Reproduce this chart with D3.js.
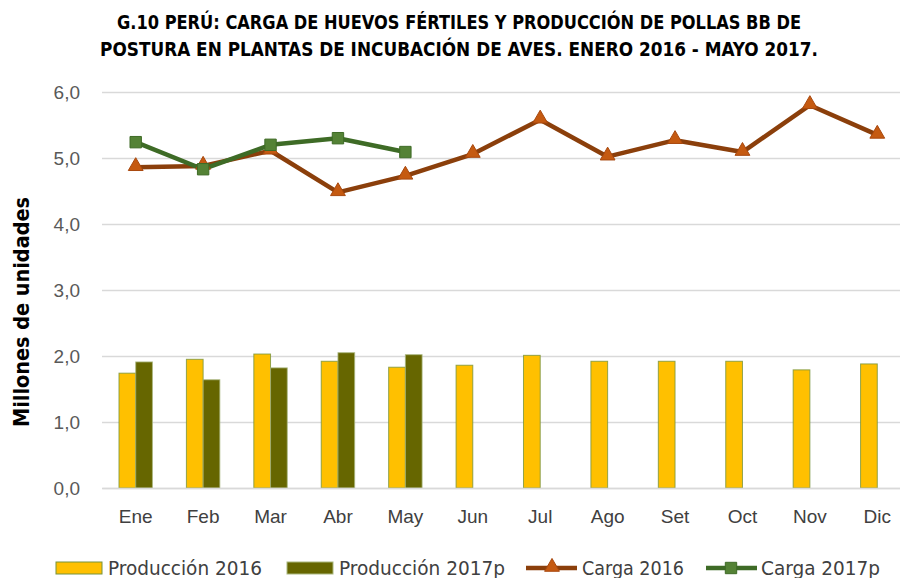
<!DOCTYPE html>
<html>
<head>
<meta charset="utf-8">
<script src="https://cdn.jsdelivr.net/npm/d3@7"></script>
<style>
  body { margin: 0; background: #fff; }
  svg { display: block; font-family: "Liberation Sans Narrow", "DejaVu Sans Condensed", "Open Sans", sans-serif; }
</style>
</head>
<body>
<div id="chart"></div>
<script>
'use strict';

const months = ['Ene', 'Feb', 'Mar', 'Abr', 'May', 'Jun', 'Jul', 'Ago', 'Set', 'Oct', 'Nov', 'Dic'];
const prod2016 = [1.74, 1.95, 2.03, 1.92, 1.83, 1.86, 2.01, 1.92, 1.92, 1.92, 1.79, 1.88];
const prod2017 = [1.91, 1.64, 1.82, 2.05, 2.02];
const carga2016 = [4.86, 4.88, 5.11, 4.48, 4.73, 5.06, 5.58, 5.02, 5.27, 5.09, 5.80, 5.35];
const carga2017 = [5.24, 4.83, 5.20, 5.30, 5.09];
const yTicks = [0, 1, 2, 3, 4, 5, 6];
const titleLines = [
    'G.10  PERÚ: CARGA DE HUEVOS FÉRTILES Y PRODUCCIÓN DE POLLAS BB DE',
    'POSTURA EN PLANTAS DE INCUBACIÓN DE AVES. ENERO 2016 - MAYO 2017.'
];

const width = 900,
    height = 578,
    plotLeft = 102,
    plotRight = 911,
    colors = {
        prod2016: '#FFC000',
        prod2017: '#666600',
        carga2016: '#8B3F0B',
        carga2016Marker: '#C55A11',
        carga2017: '#3E6B26',
        carga2017Marker: '#548235'
    };

const svg = d3.select('#chart')
    .append('svg')
    .attr('width', width)
    .attr('height', height);

const x = d3.scaleBand().domain(months).range([plotLeft, plotRight]),
    y = d3.scaleLinear().domain([0, 6]).range([488, 92]),
    xs = d3.scaleBand().domain(['p16', 'p17']).range([x.bandwidth() * 0.252, x.bandwidth() * 0.748]);

// title
svg.append('g')
    .selectAll('text')
    .data(titleLines)
    .join('text')
    .attr('x', 459)
    .attr('y', (d, i) => 29 + i * 27)
    .attr('text-anchor', 'middle')
    .attr('font-weight', 'bold')
    .attr('font-size', 20)
    .attr('fill', '#000')
    .attr('textLength', (d, i) => i === 0 ? 684 : 718)
    .attr('lengthAdjust', 'spacingAndGlyphs')
    .text(d => d);

// y axis + gridlines
const yAxis = svg.append('g')
    .attr('transform', 'translate(' + plotLeft + ',0)')
    .call(d3.axisLeft(y)
        .tickValues(yTicks)
        .tickSize(-(plotRight - plotLeft))
        .tickPadding(22)
        .tickFormat(d => d3.format('.1f')(d).replace('.', ',')));
yAxis.select('.domain').remove();
yAxis.selectAll('line').attr('stroke', '#D9D9D9').attr('stroke-width', 1.3);
yAxis.selectAll('text')
    .attr('font-size', 19)
    .attr('fill', '#595959')
    .style('font-family', 'inherit');

svg.append('text')
    .attr('transform', 'translate(29,312) rotate(-90)')
    .attr('text-anchor', 'middle')
    .attr('font-weight', 'bold')
    .attr('font-size', 21)
    .attr('fill', '#000')
    .attr('textLength', 230)
    .attr('lengthAdjust', 'spacingAndGlyphs')
    .text('Millones de unidades');

// bars
const bars = svg.append('g');
bars.selectAll('.p16')
    .data(prod2016)
    .join('rect')
    .attr('class', 'p16')
    .attr('x', (d, i) => x(months[i]) + xs('p16'))
    .attr('y', d => y(d))
    .attr('width', xs.bandwidth())
    .attr('height', d => y(0) - y(d))
    .attr('fill', colors.prod2016)
    .attr('stroke', '#77933C')
    .attr('stroke-opacity', 0.8)
    .attr('stroke-width', 1);

bars.selectAll('.p17')
    .data(prod2017)
    .join('rect')
    .attr('class', 'p17')
    .attr('x', (d, i) => x(months[i]) + xs('p17'))
    .attr('y', d => y(d))
    .attr('width', xs.bandwidth())
    .attr('height', d => y(0) - y(d))
    .attr('fill', colors.prod2017)
    .attr('stroke', '#A9B77E')
    .attr('stroke-opacity', 0.8)
    .attr('stroke-width', 1);

// x axis
const xAxis = svg.append('g')
    .attr('transform', 'translate(0,' + y(0) + ')')
    .call(d3.axisBottom(x).tickSize(0).tickPadding(22));
xAxis.select('.domain').attr('stroke', '#D9D9D9').attr('stroke-width', 1.5);
xAxis.selectAll('text')
    .attr('font-size', 19)
    .attr('fill', '#404040')
    .style('font-family', 'inherit');

// lines
const cx = (d, i) => x(months[i]) + x.bandwidth() / 2,
    line = d3.line().x(cx).y(d => y(d));

svg.append('path')
    .datum(carga2016)
    .attr('d', line)
    .attr('fill', 'none')
    .attr('stroke', colors.carga2016)
    .attr('stroke-width', 4.5)
    .attr('stroke-linejoin', 'round');

svg.append('path')
    .datum(carga2017)
    .attr('d', line)
    .attr('fill', 'none')
    .attr('stroke', colors.carga2017)
    .attr('stroke-width', 4.5)
    .attr('stroke-linejoin', 'round');

const tri = d3.symbol().type(d3.symbolTriangle).size(95),
    sq = d3.symbol().type(d3.symbolSquare).size(130);

svg.append('g')
    .selectAll('path')
    .data(carga2016)
    .join('path')
    .attr('transform', (d, i) => 'translate(' + cx(d, i) + ',' + (y(d) - 1) + ')')
    .attr('d', tri)
    .attr('fill', colors.carga2016Marker)
    .attr('stroke', '#A8480E')
    .attr('stroke-width', 1);

svg.append('g')
    .selectAll('path')
    .data(carga2017)
    .join('path')
    .attr('transform', (d, i) => 'translate(' + cx(d, i) + ',' + y(d) + ')')
    .attr('d', sq)
    .attr('fill', colors.carga2017Marker)
    .attr('stroke', '#3E6B26')
    .attr('stroke-width', 1);

// legend
const legend = svg.append('g').attr('font-size', 19).attr('fill', '#404040');

legend.append('rect')
    .attr('x', 56).attr('y', 562).attr('width', 46).attr('height', 12)
    .attr('fill', colors.prod2016).attr('stroke', '#77933C');
legend.append('text').attr('x', 108).attr('y', 575)
    .attr('textLength', 154).attr('lengthAdjust', 'spacingAndGlyphs')
    .text('Producción 2016');

legend.append('rect')
    .attr('x', 287).attr('y', 562).attr('width', 46).attr('height', 12)
    .attr('fill', colors.prod2017).attr('stroke', '#A9B77E');
legend.append('text').attr('x', 339).attr('y', 575)
    .attr('textLength', 166).attr('lengthAdjust', 'spacingAndGlyphs')
    .text('Producción 2017p');

legend.append('line')
    .attr('x1', 526).attr('x2', 577).attr('y1', 568).attr('y2', 568)
    .attr('stroke', colors.carga2016).attr('stroke-width', 4.5);
legend.append('path')
    .attr('transform', 'translate(552,567)')
    .attr('d', tri)
    .attr('fill', colors.carga2016Marker).attr('stroke', '#A8480E');
legend.append('text').attr('x', 582).attr('y', 575)
    .attr('textLength', 102).attr('lengthAdjust', 'spacingAndGlyphs')
    .text('Carga 2016');

legend.append('line')
    .attr('x1', 706).attr('x2', 757).attr('y1', 568).attr('y2', 568)
    .attr('stroke', colors.carga2017).attr('stroke-width', 4.5);
legend.append('path')
    .attr('transform', 'translate(731,568)')
    .attr('d', sq)
    .attr('fill', colors.carga2017Marker).attr('stroke', '#3E6B26');
legend.append('text').attr('x', 761).attr('y', 575)
    .attr('textLength', 119).attr('lengthAdjust', 'spacingAndGlyphs')
    .text('Carga 2017p');
</script>
</body>
</html>
